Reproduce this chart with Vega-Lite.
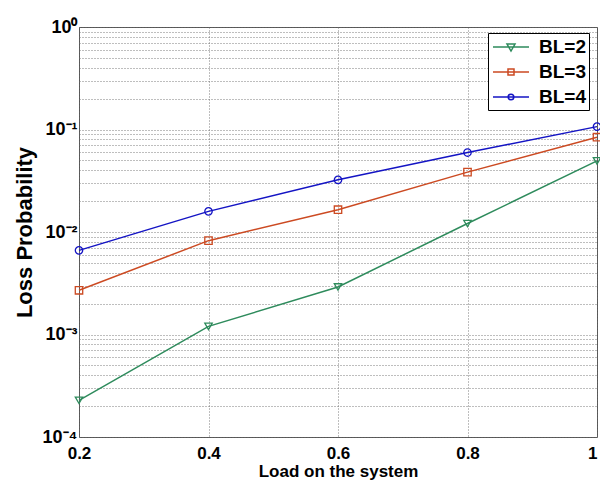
{
  "$schema": "https://vega.github.io/schema/vega-lite/v6.json",
  "width": 518,
  "height": 410,
  "autosize": {"type": "none"},
  "padding": {"left": 79, "top": 27, "right": 3, "bottom": 45},
  "background": "white",
  "config": {
    "view": {"stroke": "#555555", "strokeWidth": 1},
    "font": "Liberation Sans",
    "axis": {
      "labelFont": "Liberation Sans",
      "labelFontWeight": "bold",
      "labelColor": "#000000",
      "titleFont": "Liberation Sans",
      "titleFontWeight": "bold",
      "titleColor": "#000000",
      "grid": true,
      "gridColor": "#666666",
      "gridDash": [1, 2],
      "gridWidth": 1,
      "gridOpacity": 0.85,
      "domain": false,
      "ticks": false,
      "labelOverlap": false,
      "labelFlush": false,
      "labelBound": false
    }
  },
  "data": {
    "values": [
      {"load": 0.2, "p": 0.000228, "series": "BL=2"},
      {"load": 0.4, "p": 0.00120, "series": "BL=2"},
      {"load": 0.6, "p": 0.00291, "series": "BL=2"},
      {"load": 0.8, "p": 0.0121, "series": "BL=2"},
      {"load": 1.0, "p": 0.0494, "series": "BL=2"},
      {"load": 0.2, "p": 0.00270, "series": "BL=3"},
      {"load": 0.4, "p": 0.00823, "series": "BL=3"},
      {"load": 0.6, "p": 0.0165, "series": "BL=3"},
      {"load": 0.8, "p": 0.0384, "series": "BL=3"},
      {"load": 1.0, "p": 0.0841, "series": "BL=3"},
      {"load": 0.2, "p": 0.00662, "series": "BL=4"},
      {"load": 0.4, "p": 0.0159, "series": "BL=4"},
      {"load": 0.6, "p": 0.0323, "series": "BL=4"},
      {"load": 0.8, "p": 0.0596, "series": "BL=4"},
      {"load": 1.0, "p": 0.1067, "series": "BL=4"}
    ]
  },
  "encoding": {
    "x": {
      "field": "load",
      "type": "quantitative",
      "scale": {"domain": [0.2, 1], "nice": false, "zero": false},
      "axis": {
        "values": [0.2, 0.4, 0.6, 0.8, 1],
        "labelExpr": "datum.value == 1 ? '1' : format(datum.value, '.1f')",
        "labelAlign": {"condition": {"test": "datum.value == 1", "value": "right"}, "value": "center"},
        "labelFontSize": 17,
        "labelPadding": 8,
        "title": "Load on the system",
        "titleFontSize": 17,
        "titlePadding": 2
      }
    },
    "y": {
      "field": "p",
      "type": "quantitative",
      "scale": {"type": "log", "domain": [0.0001, 1], "nice": false},
      "axis": {
        "values": [0.0001, 0.0002, 0.0003, 0.0004, 0.0005, 0.0006, 0.0007, 0.0008, 0.0009,
                   0.001, 0.002, 0.003, 0.004, 0.005, 0.006, 0.007, 0.008, 0.009,
                   0.01, 0.02, 0.03, 0.04, 0.05, 0.06, 0.07, 0.08, 0.09,
                   0.1, 0.2, 0.3, 0.4, 0.5, 0.6, 0.7, 0.8, 0.9, 1],
        "labelExpr": "abs(log(datum.value)/LN10 - round(log(datum.value)/LN10)) > 0.001 ? '' : round(log(datum.value)/LN10) == 0 ? '10⁰' : round(log(datum.value)/LN10) == -1 ? '10⁻¹' : round(log(datum.value)/LN10) == -2 ? '10⁻²' : round(log(datum.value)/LN10) == -3 ? '10⁻³' : '10⁻⁴'",
        "labelFontSize": 18,
        "labelPadding": 2,
        "title": "Loss Probability",
        "titleFontSize": 22,
        "titlePadding": 6
      }
    }
  },
  "resolve": {"legend": {"color": "independent", "shape": "independent"}},
  "layer": [
    {
      "mark": {"type": "line", "strokeWidth": 1.5},
      "encoding": {
        "color": {
          "field": "series",
          "type": "nominal",
          "scale": {"domain": ["BL=2", "BL=3", "BL=4"], "range": ["#2e8b5c", "#cc4a22", "#1414c4"]},
          "legend": {
            "title": null,
            "orient": "none",
            "legendX": 409,
            "legendY": 6,
            "fillColor": "white",
            "strokeColor": "#000000",
            "padding": 3,
            "rowPadding": 4,
            "symbolSize": 400,
            "symbolOffset": 9,
            "symbolStrokeWidth": 1.5,
            "symbolFillColor": "transparent",
            "labelOffset": 17,
            "labelExpr": "datum.label + '\u00a0\u00a0'",
            "labelFont": "Liberation Sans",
            "labelFontWeight": "bold",
            "labelFontSize": 19,
            "labelColor": "#000000",
            "encode": {
              "symbols": {
                "update": {
                  "shape": {"signal": "datum.value == 'BL=2' ? 'M-1.8,0L1.8,0M-0.4,-0.3L0.4,-0.3L0,0.4Z' : datum.value == 'BL=3' ? 'M-1.8,0L1.8,0M-0.3,-0.3L0.3,-0.3L0.3,0.3L-0.3,0.3Z' : 'M-1.8,0L1.8,0M0.28,0A0.28,0.28 0 1,1 -0.28,0A0.28,0.28 0 1,1 0.28,0Z'"}
                }
              }
            }
          }
        }
      }
    },
    {
      "mark": {"type": "point", "filled": false, "strokeWidth": 1.3, "size": 55, "opacity": 1},
      "encoding": {
        "color": {
          "field": "series",
          "type": "nominal",
          "scale": {"domain": ["BL=2", "BL=3", "BL=4"], "range": ["#2e8b5c", "#cc4a22", "#1414c4"]},
          "legend": null
        },
        "shape": {
          "field": "series",
          "type": "nominal",
          "scale": {"domain": ["BL=2", "BL=3", "BL=4"], "range": ["triangle-down", "square", "circle"]},
          "legend": null
        }
      }
    }
  ]
}
